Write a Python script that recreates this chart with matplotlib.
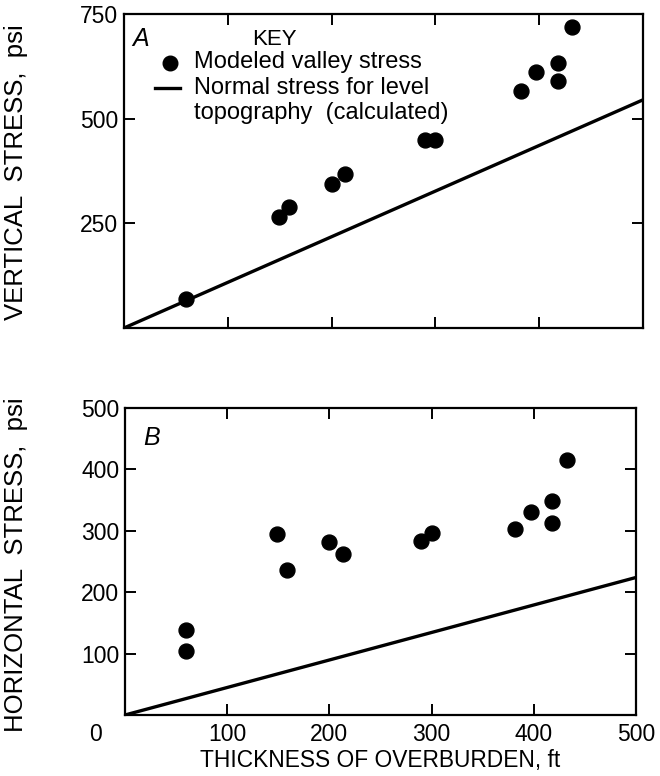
import matplotlib
matplotlib.use("Agg")
import matplotlib.pyplot as plt
from matplotlib.lines import Line2D

plt.rcParams['font.family'] = ['Liberation Sans', 'DejaVu Sans']

# ---- data ----
thick_v = [60, 149, 159, 200, 213, 290, 300, 382, 397, 418, 418, 432]
vert_stress = [70, 266, 290, 345, 367, 450, 450, 566, 611, 633, 591, 720]

thick_h = [60, 60, 149, 159, 200, 213, 290, 300, 382, 397, 418, 418, 432]
horiz_stress = [139, 104, 295, 236, 281, 262, 284, 296, 303, 331, 348, 312, 415]

line_x = [0, 500]
line_vert = [0, 545]
line_horiz = [0, 224]

xticks = [100, 200, 300, 400]
xtick_labels = ['100', '200', '300', '400']
yticks_a = [250, 500, 750]
yticks_b = [100, 200, 300, 400, 500]

W, H = 660, 776
fig = plt.figure(figsize=(W / 100, H / 100), dpi=100)

def px_axes(l, r, t, b):
    return fig.add_axes([l / W, (H - b) / H, (r - l) / W, (b - t) / H])

axA = px_axes(124, 643, 14, 328)
axB = px_axes(125, 636, 408, 715)

for ax in (axA, axB):
    for sp in ax.spines.values():
        sp.set_linewidth(1.6)
    ax.tick_params(direction='in', length=8, width=1.4, top=True, right=True,
                   labelsize=16.5, pad=4)
    ax.set_xlim(0, 500)

# ---- Panel A ----
axA.set_ylim(0, 750)
axA.plot(line_x, line_vert, color='black', lw=2.4, solid_capstyle='butt')
axA.scatter(thick_v, vert_stress, s=115, color='black', zorder=3)
axA.set_xticks(xticks + [500])
axA.set_xticklabels([])
axA.set_yticks(yticks_a)
axA.set_yticklabels([str(v) for v in yticks_a])
axA.text(0.015, 0.96, 'A', transform=axA.transAxes, fontsize=18,
         style='italic', ha='left', va='top')
axA.text(0.29, 0.92, 'KEY', transform=axA.transAxes, fontsize=16,
         ha='center', va='center')
axA.add_line(Line2D([0.089], [0.844], marker='o', markersize=10.5, color='black',
                    transform=axA.transAxes))
axA.text(0.135, 0.847, 'Modeled valley stress', transform=axA.transAxes,
         fontsize=17, ha='left', va='center')
axA.add_line(Line2D([0.06, 0.108], [0.764, 0.764], lw=2.4, color='black',
                    transform=axA.transAxes))
axA.text(0.135, 0.764, 'Normal stress for level', transform=axA.transAxes,
         fontsize=17, ha='left', va='center')
axA.text(0.135, 0.686, 'topography  (calculated)', transform=axA.transAxes,
         fontsize=17, ha='left', va='center')

# ---- Panel B ----
axB.set_ylim(0, 500)
axB.plot(line_x, line_horiz, color='black', lw=2.4, solid_capstyle='butt')
axB.scatter(thick_h, horiz_stress, s=115, color='black', zorder=3)
axB.set_xticks(xticks + [500])
axB.set_xticklabels(xtick_labels + ['500'])
axB.tick_params(axis='x', pad=6)
axB.set_yticks(yticks_b)
axB.set_yticklabels([str(v) for v in yticks_b])
axB.annotate('0', xy=(0, 0), xycoords=('data', 'axes fraction'),
             xytext=(-30, -8), textcoords='offset pixels',
             ha='center', va='top', fontsize=16.5)
axB.text(0.035, 0.94, 'B', transform=axB.transAxes, fontsize=18,
         style='italic', ha='left', va='top')
axB.set_xlabel('THICKNESS OF OVERBURDEN, ft', fontsize=16.4, labelpad=2)

# ---- y labels ----
fig.text(16 / W, 1 - 172 / H, 'VERTICAL  STRESS,  psi', rotation=90,
         ha='center', va='center', fontsize=18.5)
fig.text(16 / W, 1 - 565 / H, 'HORIZONTAL  STRESS,  psi', rotation=90,
         ha='center', va='center', fontsize=18.5)

fig.savefig('out.png', dpi=100)
